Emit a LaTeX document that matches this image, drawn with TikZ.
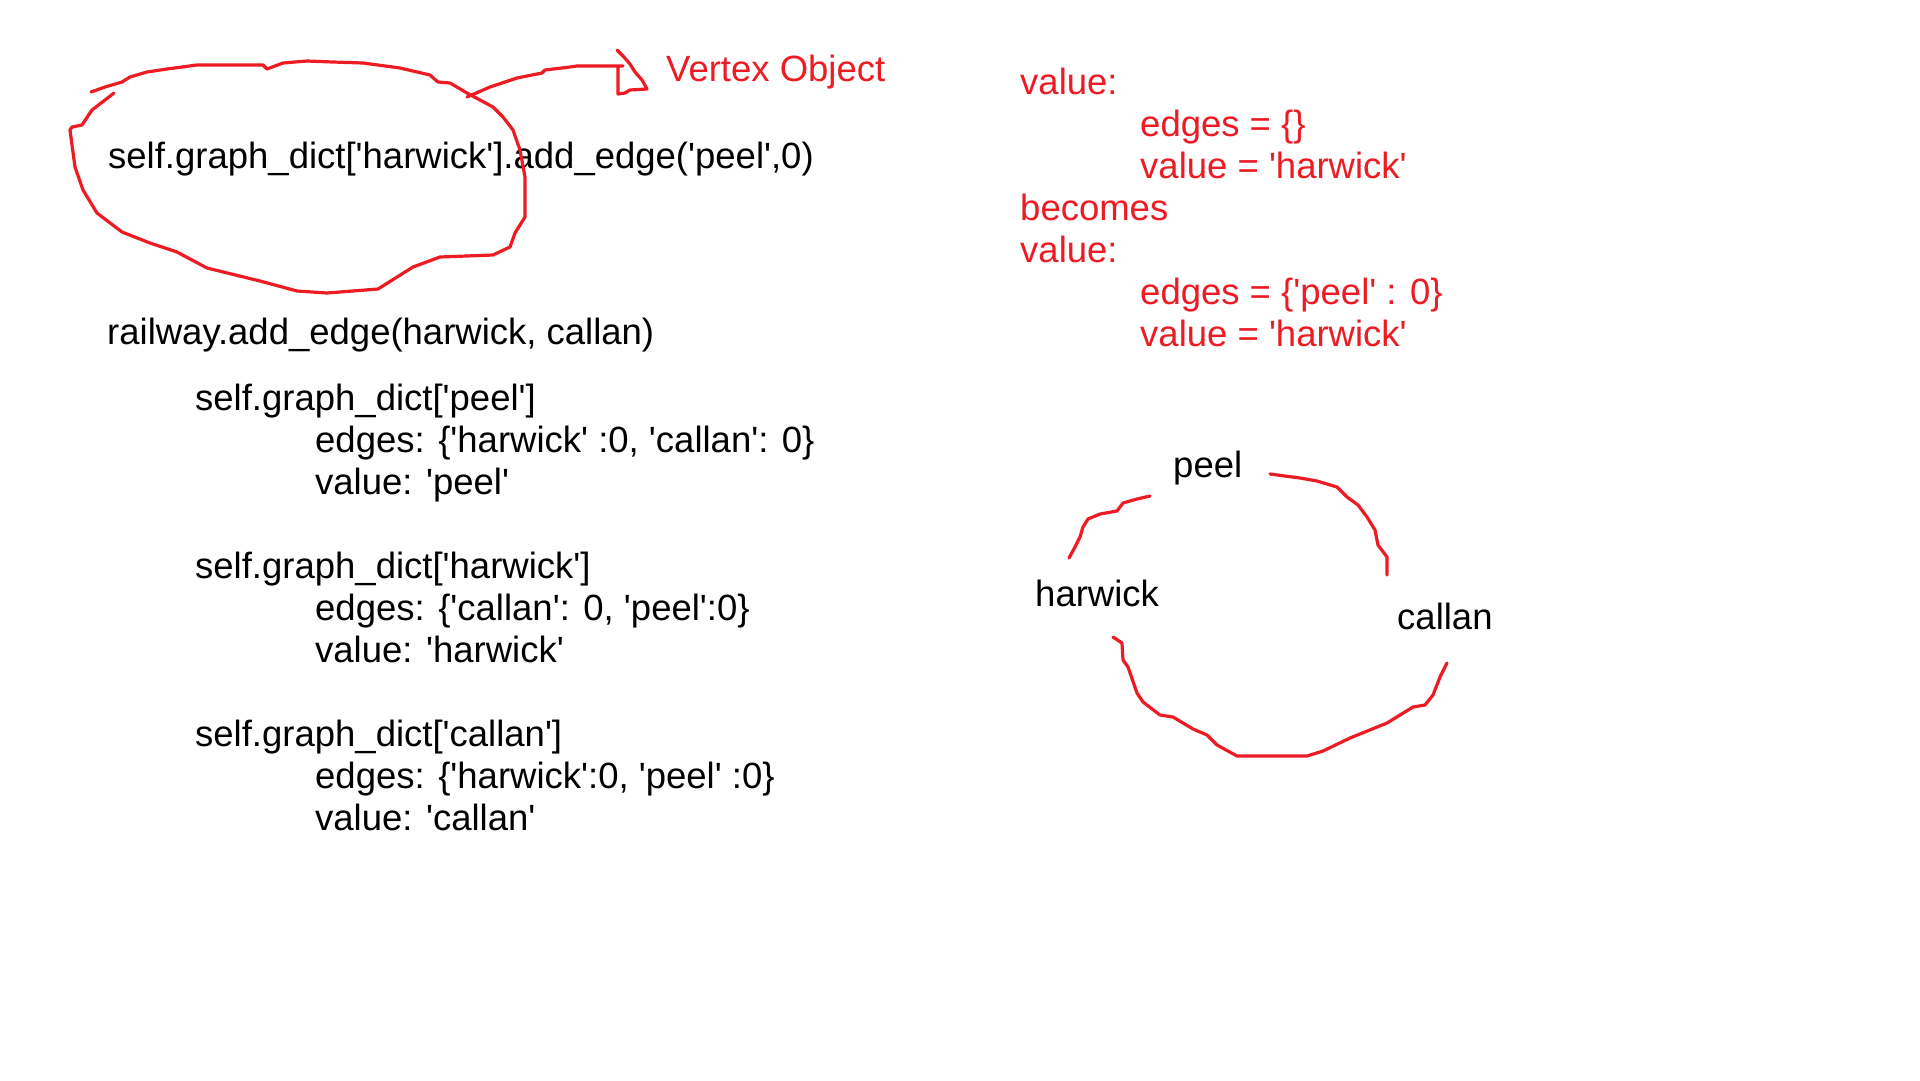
\documentclass[tikz,border=0pt]{standalone}
\usepackage{fontspec}
\setmainfont{Liberation Sans}[Ligatures=TeXOff]
\usepackage{xcolor}
\definecolor{paintred}{RGB}{237,28,36}
\tikzstyle{code} = [anchor=base west, inner sep=0pt, font=\fontsize{36.5}{41.9}\selectfont]
\tikzstyle{note} = [code, text=paintred]
\tikzstyle{ink} = [draw=paintred, line width=3.2pt, line join=round, line cap=round]

\begin{document}
\begin{tikzpicture}[x=1pt, y=-1pt]

\fill[white] (0,0) rectangle (1920,1080);
\useasboundingbox (0,0) rectangle (1920,1080);

% code on the left
\node at (108, 168) (call) [code] {self.graph\_dict['harwick'].add\_edge('peel',0)};
\node at (107, 344) (rail) [code] {railway.add\_edge(harwick, callan)};
\node at (195, 410) (peeldict) [code] {self.graph\_dict['peel']};
\node at (315, 452) (peeledges) [code] {edges: \{'harwick' :0, 'callan': 0\}};
\node at (315, 494) (peelvalue) [code] {value: 'peel'};
\node at (195, 578) (harwickdict) [code] {self.graph\_dict['harwick']};
\node at (315, 620) (harwickedges) [code] {edges: \{'callan': 0, 'peel':0\}};
\node at (315, 662) (harwickvalue) [code] {value: 'harwick'};
\node at (195, 746) (callandict) [code] {self.graph\_dict['callan']};
\node at (315, 788) (callanedges) [code] {edges: \{'harwick':0, 'peel' :0\}};
\node at (315, 830) (callanvalue) [code] {value: 'callan'};

% red notes
\node at (666, 81) (vertex) [note] {Vertex Object};
\node at (1020, 94) (before) [note] {value:};
\node at (1140, 136) (beforeedges) [note] {edges = \{\}};
\node at (1140, 178) (beforevalue) [note] {value = 'harwick'};
\node at (1020, 220) (becomes) [note] {becomes};
\node at (1020, 262) (after) [note] {value:};
\node at (1140, 304) (afteredges) [note] {edges = \{'peel' : 0\}};
\node at (1140, 346) (aftervalue) [note] {value = 'harwick'};

% loop round the vertex
\draw[ink] (91,92) -- (105,87) -- (122,82) -- (130,77) -- (147,72) -- (167,69) -- (197,65) -- (263,65) -- (267,69) -- (283,63) -- (307,61) -- (333,62) -- (363,63) -- (400,68) -- (430,75) -- (438,82) -- (450,83) -- (467,93) -- (493,107) -- (503,117) -- (513,130) -- (520,150) -- (525,177) -- (525,217) -- (515,233) -- (510,247) -- (493,255) -- (440,257) -- (413,267) -- (378,289) -- (327,293) -- (297,291) -- (260,281) -- (207,268) -- (177,252) -- (150,243) -- (122,232) -- (97,213) -- (83,190) -- (75,167) -- (70,130) -- (72,127) -- (82,125) -- (92,110) -- (105,100) -- (114,93);
\draw[ink] (467,97) -- (490,87) -- (517,78) -- (542,73) -- (545,70) -- (570,67) -- (577,66) -- (623,66);
\draw[ink] (617,50) -- (623,56) -- (630,64) -- (635,72) -- (642,80) -- (647,89) -- (630,90) -- (625,93) -- (618,94) -- (618,67);

% the railway graph
\node at (1173, 477) (peel) [code] {peel};
\node at (1035, 606) (harwick) [code] {harwick};
\node at (1397, 629) (callan) [code] {callan};

\coordinate (pw) at ([shift={(-23,19)}]peel.base west);
\coordinate (pe) at ([shift={(97,-3)}]peel.base west);
\coordinate (hn) at ([shift={(34,-48)}]harwick.base west);
\coordinate (hs) at ([shift={(78,31)}]harwick.base west);
\coordinate (cn) at ([shift={(-10,-54)}]callan.base west);
\coordinate (cs) at ([shift={(50,34)}]callan.base west);

\draw[ink] (pw) -- (1137,499) -- (1123,503) -- (1117,511) -- (1100,514) -- (1088,519) -- (1083,527) -- (1080,537) -- (1075,547) -- (hn);
\draw[ink] (pe) -- (1300,478) -- (1317,481) -- (1337,487) -- (1347,497) -- (1358,505) -- (1367,517) -- (1375,530) -- (1378,545) -- (1387,557) -- (cn);
\draw[ink] (hs) -- (1122,643) -- (1123,660) -- (1128,667) -- (1137,693) -- (1143,702) -- (1160,715) -- (1173,717) -- (1193,729) -- (1207,735) -- (1217,745) -- (1237,756) -- (1307,756) -- (1323,751) -- (1350,738) -- (1387,723) -- (1413,707) -- (1425,705) -- (1433,695) -- (1440,677) -- (cs);

\end{tikzpicture}
\end{document}
